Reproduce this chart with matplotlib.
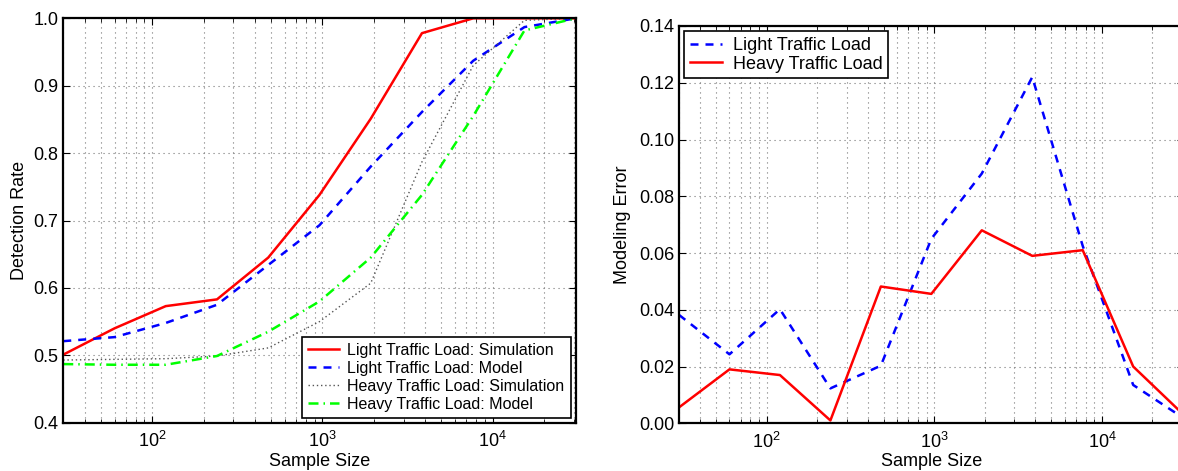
import numpy as np
import matplotlib.pyplot as plt
from matplotlib.ticker import LogLocator, FixedLocator, FormatStrFormatter, NullFormatter

plt.rcParams['font.family'] = ['Liberation Sans', 'DejaVu Sans']
plt.rcParams['mathtext.fontset'] = 'custom'
plt.rcParams['mathtext.rm'] = 'Liberation Sans'
plt.rcParams['mathtext.it'] = 'Liberation Sans'

# sample sizes (30 * 2^k)
sample_size = [30, 60, 120, 240, 480, 960, 1920, 3840, 7680, 15360, 30720]

# left panel: detection rate
light_sim = [0.501, 0.540, 0.573, 0.583, 0.645, 0.738, 0.851, 0.978, 1.0, 1.0, 1.0]
light_model = [0.521, 0.527, 0.548, 0.575, 0.634, 0.693, 0.780, 0.861, 0.937, 0.987, 1.0]
heavy_sim = [0.493, 0.494, 0.495, 0.499, 0.511, 0.550, 0.607, 0.787, 0.930, 0.997, 1.0]
heavy_model = [0.487, 0.486, 0.486, 0.499, 0.535, 0.580, 0.645, 0.738, 0.855, 0.982, 1.0]

# right panel: modeling error
err_light = [0.0382, 0.0243, 0.0402, 0.0123, 0.0203, 0.0650, 0.0880, 0.1220, 0.0625, 0.0135, 0.0018]
err_heavy = [0.0056, 0.0190, 0.0170, 0.0010, 0.0482, 0.0456, 0.0680, 0.0590, 0.0610, 0.0200, 0.0030]

FS = 13

fig = plt.figure(figsize=(11.78, 4.71), dpi=100)
ax1 = fig.add_axes([0.0537, 0.1025, 0.435, 0.8586])
ax2 = fig.add_axes([0.5764, 0.1013, 0.4284, 0.8435])


def style_axis(ax):
    ax.set_xscale('log')
    ax.set_xlim(30, 30720)
    ax.xaxis.set_major_locator(LogLocator(base=10))
    ax.xaxis.set_minor_locator(LogLocator(base=10, subs=np.arange(2, 10)))
    ax.xaxis.set_minor_formatter(NullFormatter())
    ax.tick_params(which='both', direction='in', top=True, right=True, labelsize=FS)
    ax.tick_params(which='major', length=5, width=0.8)
    ax.tick_params(which='minor', length=3, width=0.6)
    ax.tick_params(axis='x', which='major', pad=6)
    grid_kw = dict(linestyle=(0, (1, 3.5)), color='#777777', linewidth=0.8)
    ax.grid(True, which='major', axis='both', **grid_kw)
    ax.grid(True, which='minor', axis='x', **grid_kw)
    for sp in ax.spines.values():
        sp.set_linewidth(1.6)
    ax.set_xlabel('Sample Size', fontsize=FS, labelpad=1)


style_axis(ax1)
ax1.plot(sample_size, light_sim, color='red', lw=1.8, label='Light Traffic Load: Simulation')
ax1.plot(sample_size, light_model, color='blue', lw=1.8, linestyle=(0, (3.2, 2.8)),
         label='Light Traffic Load: Model')
ax1.plot(sample_size, heavy_sim, color='#555555', lw=1.0, linestyle=(0, (1, 2)),
         label='Heavy Traffic Load: Simulation')
ax1.plot(sample_size, heavy_model, color='#00ff00', lw=1.8, linestyle=(0, (4, 2, 0.6, 2)),
         label='Heavy Traffic Load: Model')
ax1.set_ylim(0.4, 1.0)
ax1.yaxis.set_major_locator(FixedLocator(np.arange(0.4, 1.01, 0.1)))
ax1.yaxis.set_major_formatter(FormatStrFormatter('%.1f'))
ax1.set_ylabel('Detection Rate', fontsize=FS, labelpad=4)
leg1 = ax1.legend(loc='lower right', fontsize=11.5, frameon=True, fancybox=False,
                  edgecolor='black', framealpha=1, handlelength=1.9, handletextpad=0.55,
                  labelspacing=0.18, borderaxespad=0.3, borderpad=0.4)
leg1.get_frame().set_linewidth(1.2)

style_axis(ax2)
ax2.plot(sample_size, err_light, color='blue', lw=1.8, linestyle=(0, (3.2, 2.8)),
         label='Light Traffic Load')
ax2.plot(sample_size, err_heavy, color='red', lw=1.8, label='Heavy Traffic Load')
ax2.set_ylim(0, 0.14)
ax2.yaxis.set_major_locator(FixedLocator(np.arange(0, 0.141, 0.02)))
ax2.yaxis.set_major_formatter(FormatStrFormatter('%.2f'))
ax2.set_ylabel('Modeling Error', fontsize=FS, labelpad=6)
leg2 = ax2.legend(loc='upper left', fontsize=13, frameon=True, fancybox=False,
                  edgecolor='black', framealpha=1, handlelength=1.8, handletextpad=0.6,
                  labelspacing=0.1, borderaxespad=0.3, borderpad=0.3)
leg2.get_frame().set_linewidth(1.2)

fig.savefig('out.png', dpi=100)
